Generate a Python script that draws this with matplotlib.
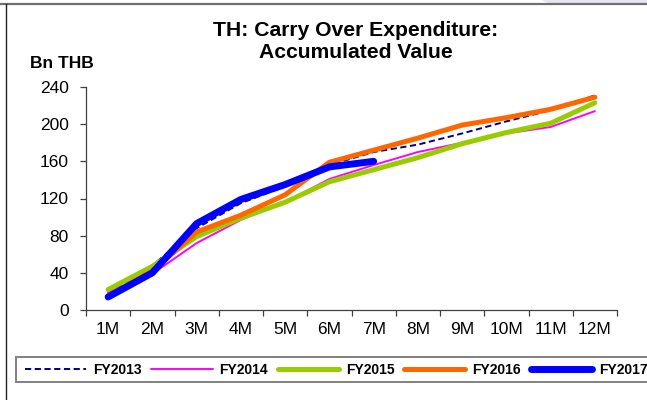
import matplotlib
matplotlib.use("Agg")
import matplotlib.pyplot as plt
from matplotlib.patches import Rectangle, Polygon
from matplotlib.lines import Line2D

plt.rcParams['font.family'] = ['Liberation Sans', 'DejaVu Sans']

months = ["1M", "2M", "3M", "4M", "5M", "6M", "7M", "8M", "9M", "10M", "11M", "12M"]

fy2013 = [18, 48, 88, 115, 133, 156, 170, 178, 190, 203, 215, 231]
fy2014 = [19, 39, 72, 97, 116, 141, 156, 170, 180, 190, 197, 214]
fy2015 = [22, 47, 79, 99, 116, 138, 151, 164, 179, 191, 201, 223]
fy2016 = [15, 42, 84, 102, 124, 159, 172, 185, 199, 207, 216, 229]
fy2017 = [14, 40, 93, 119, 135, 154, 160]

series = [
    ("FY2013", fy2013, dict(color="#000080", lw=1.4, ls=(0, (3.2, 1.8)))),
    ("FY2014", fy2014, dict(color="#FF00FF", lw=1.4, ls="-")),
    ("FY2015", fy2015, dict(color="#99CC00", lw=3.6, ls="-")),
    ("FY2016", fy2016, dict(color="#FF6600", lw=3.6, ls="-")),
    ("FY2017", fy2017, dict(color="#0000FF", lw=5.0, ls="-")),
]

W, H = 647, 400
fig = plt.figure(figsize=(W / 100, H / 100), dpi=100)

# outer frame of the chart area
fig.patches.append(Polygon([[542 / W, 1], [548 / W, 1 - 3 / H], [1, 1 - 3 / H], [1, 1]],
                           closed=True, transform=fig.transFigure,
                           facecolor="#E6E6F0", edgecolor="none"))
fig.add_artist(Line2D([0, 1], [1 - 3.8 / H, 1 - 3.8 / H], transform=fig.transFigure,
                      color="#707070", lw=1.6))
fig.add_artist(Line2D([5.8 / W, 5.8 / W], [0, 1 - 3.8 / H], transform=fig.transFigure,
                      color="#202020", lw=1.0))

ax = fig.add_axes([86 / W, 1 - 310 / H, (617 - 86) / W, (310 - 87) / H])

x = list(range(1, 13))
for name, vals, st in series:
    ax.plot(x[:len(vals)], vals, label=name, color=st["color"], lw=st["lw"],
            ls=st["ls"], solid_capstyle="round", dash_capstyle="butt")

ax.set_xlim(0.5, 12.5)
ax.set_ylim(0, 240)
ax.set_yticks(range(0, 241, 40))
ax.set_xticks([i + 0.5 for i in range(0, 13)])
ax.set_xticklabels([])
ax.set_xticks(x, minor=True)
ax.set_xticklabels(months, minor=True)
ax.tick_params(axis="x", which="major", direction="out", length=4.5, width=0.9, color="#404040")
ax.tick_params(axis="x", which="minor", length=0, pad=9, labelsize=12.5)
ax.tick_params(axis="y", direction="out", length=4.5, width=0.9, color="#404040",
               pad=8, labelsize=12.5)
for s in ("top", "right"):
    ax.spines[s].set_visible(False)
for s in ("left", "bottom"):
    ax.spines[s].set_color("#404040")
    ax.spines[s].set_linewidth(0.9)

fig.text(356 / W, 1 - 42 / H, "TH: Carry Over Expenditure:\nAccumulated Value",
         ha="center", va="center", fontsize=15.2, fontweight="bold", linespacing=1.2)
fig.text(30 / W, 1 - 63 / H, "Bn THB", ha="left", va="center",
         fontsize=12.5, fontweight="bold")

# legend row with its own frame
fig.patches.append(Rectangle((16 / W, 1 - 382 / H), (700 - 16) / W, 25 / H,
                             transform=fig.transFigure, facecolor="white",
                             edgecolor="#808080", lw=1.4, zorder=1))
leg = fig.legend(loc="center left", bbox_to_anchor=(25 / W, 1 - 369.5 / H),
                 ncol=5, frameon=False, borderpad=0, borderaxespad=0,
                 handlelength=4.4, handletextpad=0.5, columnspacing=0.7,
                 prop=dict(weight="bold", size=10))
leg.set_zorder(2)

fig.savefig("out.png", dpi=100)
